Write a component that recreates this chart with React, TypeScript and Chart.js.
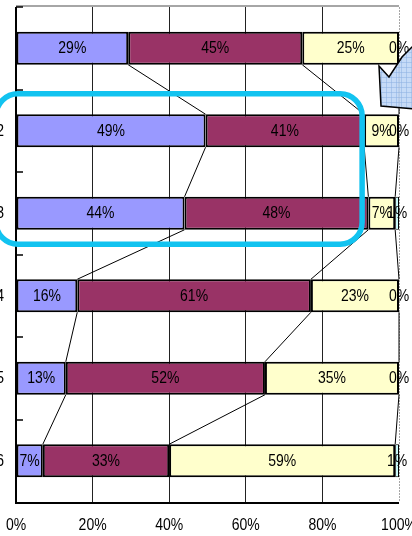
import { useEffect, useRef } from 'react';
import { Chart, registerables } from 'chart.js';

Chart.register(...registerables);

// Row labels (first row has no visible caption)
const categories = ['', '2', '3', '4', '5', '6'];
// Share of answers per row, in percent
const seriesA = [29, 49, 44, 16, 13, 7];
const seriesB = [45, 41, 48, 61, 52, 33];
const seriesC = [25, 9, 7, 23, 35, 59];
const seriesD = [0, 0, 1, 0, 0, 1];
const seriesNames = ['A', 'B', 'C', 'D'];
const seriesColors = ['#9999FF', '#993366', '#FFFFCC', '#CCFFFF'];
const xTickStep = 20;

const FONT = '"Liberation Sans", Arial, sans-serif';
// text in this chart is drawn slightly tall
const TEXT_STRETCH = 1.15;

function tallText(ctx: CanvasRenderingContext2D, text: string, x: number, y: number) {
  ctx.save();
  ctx.translate(x, y);
  ctx.scale(1, TEXT_STRETCH);
  ctx.fillText(text, 0, 0);
  ctx.restore();
}

export default function App() {
  const canvasRef = useRef<HTMLCanvasElement>(null);

  useEffect(() => {
    const canvas = canvasRef.current;
    if (!canvas) return;
    const series = [seriesA, seriesB, seriesC, seriesD];
    const rowTotals = categories.map((_, i) => series.reduce((s, d) => s + d[i], 0));

    // 100% stacked: each segment is its value scaled by the row total
    const datasets = series.map((vals, k) => ({
      label: seriesNames[k],
      data: vals.map((v, i) => (v / rowTotals[i]) * 100),
      backgroundColor: seriesColors[k],
      borderColor: '#000',
      borderWidth: k === 3 ? 1 : 2,
      borderSkipped: false as const,
      categoryPercentage: 1,
      barPercentage: 0.4,
    }));

    const framePlugin = {
      id: 'frame',
      beforeDatasetsDraw(chart: any) {
        const { ctx, chartArea: a } = chart;
        ctx.save();
        // top border
        ctx.strokeStyle = '#A6A6A6';
        ctx.lineWidth = 2;
        ctx.beginPath();
        ctx.moveTo(a.left, a.top - 1);
        ctx.lineTo(a.right, a.top - 1);
        ctx.stroke();
        // right border, dotted
        ctx.lineWidth = 1;
        ctx.setLineDash([2, 1]);
        ctx.beginPath();
        ctx.moveTo(a.right + 0.5, a.top);
        ctx.lineTo(a.right + 0.5, a.bottom);
        ctx.stroke();
        ctx.restore();
      },
      afterDatasetsDraw(chart: any) {
        const { ctx, chartArea: a, scales } = chart;
        const y = scales.y;
        const x = scales.x;
        ctx.save();
        // category axis with inward tick marks
        ctx.strokeStyle = '#000';
        ctx.lineWidth = 2;
        ctx.beginPath();
        ctx.moveTo(a.left, a.top);
        ctx.lineTo(a.left, a.bottom + 1);
        ctx.lineTo(a.right, a.bottom + 1);
        ctx.stroke();
        ctx.lineWidth = 1.5;
        const n = categories.length;
        const step = n > 1 ? y.getPixelForValue(1) - y.getPixelForValue(0) : 0;
        for (let i = 0; i < n; i++) {
          const ty = Math.round(y.getPixelForValue(i) - step / 2);
          ctx.beginPath();
          ctx.moveTo(a.left, ty);
          ctx.lineTo(a.left + 7, ty);
          ctx.stroke();
        }

        // series lines between consecutive bars
        const metas = [0, 1, 2].map((k) => chart.getDatasetMeta(k));
        ctx.lineWidth = 1;
        metas.forEach((meta: any) => {
          for (let i = 0; i < n - 1; i++) {
            const e1 = meta.data[i];
            const e2 = meta.data[i + 1];
            ctx.beginPath();
            ctx.moveTo(e1.x, e1.y + e1.height / 2);
            ctx.lineTo(e2.x, e2.y - e2.height / 2);
            ctx.stroke();
          }
        });

        // value labels
        ctx.fillStyle = '#000';
        ctx.font = `14px ${FONT}`;
        ctx.textAlign = 'center';
        ctx.textBaseline = 'middle';
        series.forEach((vals, k) => {
          const meta = chart.getDatasetMeta(k);
          meta.data.forEach((el: any, i: number) => {
            tallText(ctx, `${vals[i]}%`, (el.x + el.base) / 2, el.y + 0.5);
          });
        });

        // value-axis tick labels
        x.ticks.forEach((t: any) => {
          tallText(ctx, `${t.value}%`, x.getPixelForValue(t.value), a.bottom + 24);
        });
        // category labels
        ctx.textAlign = 'right';
        categories.forEach((c, i) => {
          tallText(ctx, c, a.left - 12, y.getPixelForValue(i) + 0.5);
        });
        ctx.restore();
      },
      afterDraw(chart: any) {
        const { ctx } = chart;
        ctx.save();
        // highlight frame around rows 2 and 3
        const ys = chart.scales.y;
        const top = ys.getPixelForValue(1) - 37;
        const bottom = ys.getPixelForValue(2) + 31;
        const left = -4;
        const right = chart.scales.x.getPixelForValue(90.5) - 0.5;
        ctx.strokeStyle = '#12C3F0';
        ctx.lineWidth = 5.5;
        ctx.beginPath();
        ctx.roundRect(left, top, right - left, bottom - top, 22);
        ctx.stroke();

        // callout arrow in the corner
        const pts: [number, number][] = [
          [379, 66], [389, 77], [402, 57], [416, 43], [416, 109], [381, 106],
        ];
        const arrowPath = () => {
          ctx.beginPath();
          pts.forEach(([px, py], i) => (i ? ctx.lineTo(px, py) : ctx.moveTo(px, py)));
          ctx.closePath();
        };
        arrowPath();
        ctx.fillStyle = 'rgba(192, 215, 246, 0.9)';
        ctx.fill();
        ctx.save();
        ctx.clip();
        ctx.strokeStyle = 'rgba(140, 175, 225, 0.5)';
        ctx.lineWidth = 1;
        for (let gx = 376; gx < 416; gx += 5) {
          ctx.beginPath();
          ctx.moveTo(gx + 0.5, 40);
          ctx.lineTo(gx + 0.5, 112);
          ctx.stroke();
        }
        for (let gy = 42; gy < 112; gy += 5) {
          ctx.beginPath();
          ctx.moveTo(370, gy + 0.5);
          ctx.lineTo(416, gy + 0.5);
          ctx.stroke();
        }
        ctx.restore();
        arrowPath();
        ctx.strokeStyle = '#000';
        ctx.lineWidth = 1.5;
        ctx.stroke();
        ctx.restore();
      },
    };

    const chart = new Chart(canvas, {
      type: 'bar',
      data: { labels: categories, datasets },
      options: {
        indexAxis: 'y',
        responsive: false,
        animation: false,
        layout: { padding: { top: 7, right: 13, left: 0, bottom: 0 } },
        plugins: { legend: { display: false }, tooltip: { enabled: false } },
        scales: {
          x: {
            type: 'linear',
            stacked: true,
            min: 0,
            max: 100,
            position: 'bottom',
            border: { display: false },
            grid: {
              drawTicks: false,
              lineWidth: 1,
              color: (c: any) =>
                c.tick && (c.tick.value === 0 || c.tick.value === 100) ? 'rgba(0,0,0,0)' : '#222',
            },
            ticks: { stepSize: xTickStep, display: false },
            afterFit: (s: any) => {
              s.height = 34;
              s.paddingLeft = 0;
              s.paddingRight = 0;
            },
          },
          y: {
            type: 'category',
            stacked: true,
            border: { display: false },
            grid: { display: false, drawTicks: false },
            ticks: { display: false },
            afterFit: (s: any) => {
              s.width = 16;
              s.paddingTop = 0;
              s.paddingBottom = 0;
            },
          },
        },
      },
      plugins: [framePlugin],
    });

    return () => chart.destroy();
  }, []);

  return (
    <div style={{ position: 'absolute', left: 0, top: 0, width: 412, height: 536, background: '#fff' }}>
      <canvas ref={canvasRef} width={412} height={536} style={{ display: 'block' }} />
    </div>
  );
}
